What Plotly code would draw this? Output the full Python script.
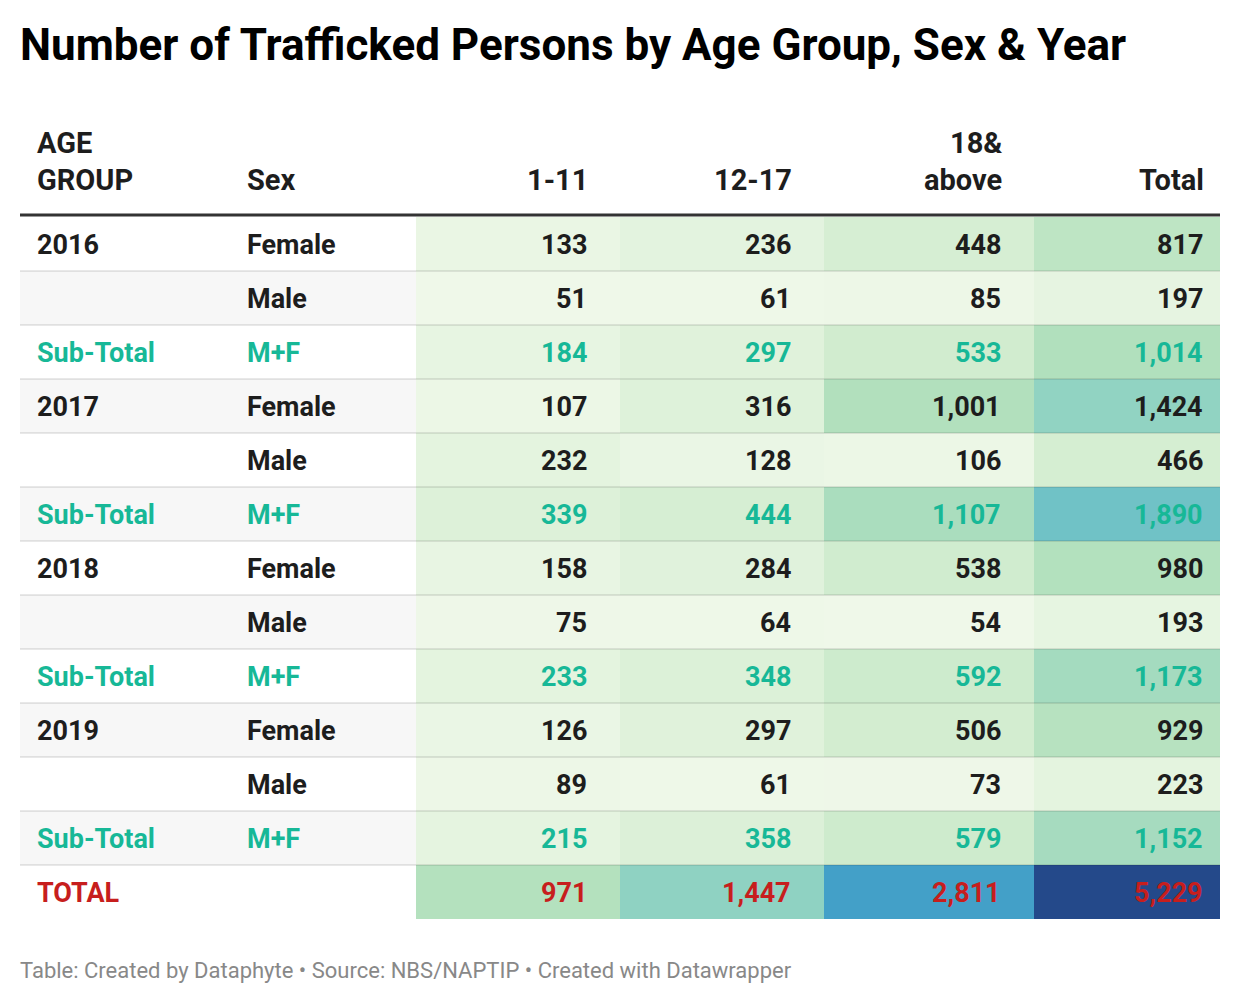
import plotly.graph_objects as go

# ---------------- data ----------------
title_text = "Number of Trafficked Persons by Age Group, Sex & Year"
footer_text = "Table: Created by Dataphyte • Source: NBS/NAPTIP • Created with Datawrapper"

header_labels = ["AGE<br>GROUP", "Sex", "1-11", "12-17", "18&<br>above", "Total"]

age_group = ["2016", "", "Sub-Total", "2017", "", "Sub-Total",
             "2018", "", "Sub-Total", "2019", "", "Sub-Total", "TOTAL"]
sex = ["Female", "Male", "M+F", "Female", "Male", "M+F",
       "Female", "Male", "M+F", "Female", "Male", "M+F", ""]
age_1_11 = [133, 51, 184, 107, 232, 339, 158, 75, 233, 126, 89, 215, 971]
age_12_17 = [236, 61, 297, 316, 128, 444, 284, 64, 348, 297, 61, 358, 1447]
age_18_above = [448, 85, 533, 1001, 106, 1107, 538, 54, 592, 506, 73, 579, 2811]
total = [817, 197, 1014, 1424, 466, 1890, 980, 193, 1173, 929, 223, 1152, 5229]

# ---------------- layout constants ----------------
W, H = 1240, 1004
TABLE_L, TABLE_R = 20, 1220
COL_EDGES = [20, 230, 416, 620, 824, 1034, 1220]
TEXT_LEFT_PAD = 17
ROW_TOP = 217
ROW_H = 54
HEADER_LINE_Y = 215
HEADER_BASE_Y = 180
HEADER_LINE_GAP = 37

FONT = "Roboto, Arial, sans-serif"
C_TEXT = "#1d1d1d"
C_SUB = "#17b897"
C_TOTAL = "#c71e1d"
C_STRIPE = "#f7f7f7"
TITLE_SIZE = 44
HEADER_SIZE = 29
BODY_SIZE = 27
FOOTER_SIZE = 22

num_cols = [age_1_11, age_12_17, age_18_above, total]
n_rows = len(age_group)

z = [[col[i] for col in num_cols] for i in range(n_rows)]
zmin = min(min(c) for c in num_cols)
zmax = max(max(c) for c in num_cols)

def norm(v):
    return (v - zmin) / (zmax - zmin)

colorscale = [
    [0.0, "#eff8e9"],
    [norm(500), "#d3edd0"],
    [norm(1000), "#b2e0bd"],
    [norm(1447), "#8fd2c2"],
    [norm(1890), "#70c2c6"],
    [norm(2811), "#43a0c8"],
    [1.0, "#24498a"],
]

row_edges = [ROW_TOP + ROW_H * i for i in range(n_rows + 1)]

fig = go.Figure()

fig.add_trace(go.Heatmap(
    z=z,
    x=COL_EDGES[2:],
    y=row_edges,
    zmin=zmin, zmax=zmax,
    colorscale=colorscale,
    showscale=False,
    hoverinfo="skip",
))

shapes = []
for i in range(n_rows):
    if i % 2 == 1:
        shapes.append(dict(type="rect", xref="x", yref="y",
                           x0=TABLE_L, x1=COL_EDGES[2],
                           y0=row_edges[i], y1=row_edges[i + 1],
                           fillcolor=C_STRIPE, line=dict(width=0), layer="below"))
for i in range(1, n_rows):
    shapes.append(dict(type="line", xref="x", yref="y",
                       x0=TABLE_L, x1=TABLE_R, y0=row_edges[i], y1=row_edges[i],
                       line=dict(color="rgba(0,0,0,0.09)", width=2), layer="above"))
shapes.append(dict(type="line", xref="x", yref="y",
                   x0=TABLE_L, x1=TABLE_R, y0=HEADER_LINE_Y, y1=HEADER_LINE_Y,
                   line=dict(color="#333333", width=3), layer="above"))

ann = []

def add_text(text, x, y, xa, size, color):
    ann.append(dict(text=text, x=x, y=y, xref="x", yref="y",
                    xanchor=xa, yanchor="middle", showarrow=False,
                    borderpad=0, borderwidth=0,
                    font=dict(family=FONT, size=size, color=color)))

add_text(f"<b>{title_text}</b>", TABLE_L, 45, "left", TITLE_SIZE, "#000000")
add_text(footer_text, TABLE_L, 970, "left", FOOTER_SIZE, "#888888")

def col_anchor(j, pad_mid, pad_last):
    if j < 2:
        return COL_EDGES[j] + TEXT_LEFT_PAD, "left"
    pad = pad_last if j == len(COL_EDGES) - 2 else pad_mid
    return COL_EDGES[j + 1] - pad, "right"

for j, lab in enumerate(header_labels):
    x, xa = col_anchor(j, 32, 16)
    lines = lab.split("<br>")
    for k, line in enumerate(reversed(lines)):
        add_text(f"<b>{line}</b>", x, HEADER_BASE_Y - k * HEADER_LINE_GAP, xa,
                 HEADER_SIZE, C_TEXT)

for i in range(n_rows):
    if age_group[i] == "Sub-Total":
        color = C_SUB
    elif age_group[i] == "TOTAL":
        color = C_TOTAL
    else:
        color = C_TEXT
    yc = (row_edges[i] + row_edges[i + 1]) / 2 + 1
    cells = [age_group[i], sex[i]] + [f"{col[i]:,}" for col in num_cols]
    for j, txt in enumerate(cells):
        if not txt:
            continue
        x, xa = col_anchor(j, 33, 17)
        add_text(f"<b>{txt}</b>", x, yc, xa, BODY_SIZE, color)

fig.update_layout(
    width=W, height=H,
    margin=dict(l=0, r=0, t=0, b=0),
    paper_bgcolor="white", plot_bgcolor="white",
    xaxis=dict(range=[0, W], visible=False, fixedrange=True),
    yaxis=dict(range=[H, 0], visible=False, fixedrange=True),
    shapes=shapes,
    annotations=ann,
    showlegend=False,
)

fig.write_html("out.html", config={"displayModeBar": False},
               post_script="document.body.style.margin='0';")
